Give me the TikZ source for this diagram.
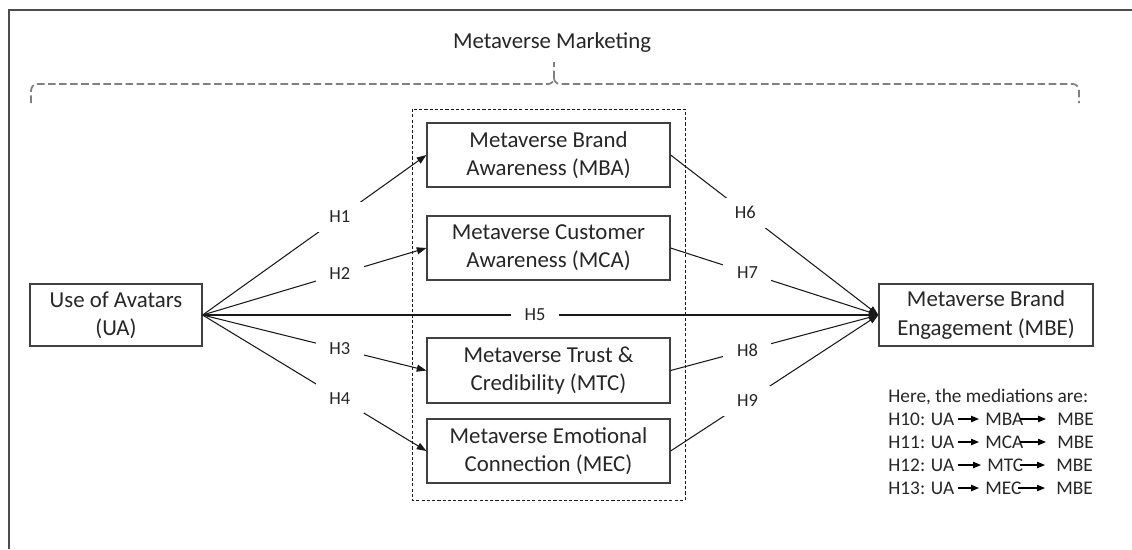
\documentclass[tikz,border=0pt]{standalone}
\usepackage{fontspec}
\setmainfont{Carlito}
\usetikzlibrary{arrows.meta,calc}
\begin{document}
\begin{tikzpicture}[x=0.02cm,y=-0.02cm,
  box/.style={draw=black!75,line width=0.7pt,inner sep=0pt,font=\fontsize{13pt}{16pt}\selectfont,align=center,text=black!85},
  link/.style={draw=black!90,line width=0.6pt},
  arr/.style={link,-{Triangle[length=5.5pt,width=4pt]}},
  hlab/.style={fill=white,inner sep=0pt,minimum width=0.96cm,minimum height=0.6cm,font=\fontsize{10.5pt}{12pt}\selectfont,text=black!85},
  med/.style={font=\fontsize{11pt}{13pt}\selectfont,anchor=west,inner sep=0pt,text=black!85},
  medarr/.style={line width=0.6pt,draw=black,-{Triangle[length=4.5pt,width=3.6pt]}},
  brace/.style={draw=black!50,line width=1pt,dash pattern=on 4.3pt off 2pt},
  groupbox/.style={draw=black!90,line width=0.5pt,dash pattern=on 1.8pt off 1.2pt}]
\useasboundingbox (0,0) rectangle (1132,549);
% frame
\draw[black!70,line width=0.9pt] (9,549) -- (9,10) -- (1132,10);
% title and brace
\node[font=\fontsize{13pt}{16pt}\selectfont,text=black!85] (title) at (552,43) {Metaverse Marketing};
\draw[brace] (31,103) -- (31,91) to[out=90,in=180] (37,84) -- (548,84) to[out=0,in=-90] (554,78) -- (554,62);
\draw[brace] (554,78) to[out=-90,in=180] (560,84) -- (1073,84) to[out=0,in=90] (1079,91) -- (1079,103);
% mediator group
\draw[groupbox] (412,109) rectangle (685,500);
% boxes
\node[box,minimum width=3.44cm,minimum height=1.24cm] (ua) at (116,315) {Use of Avatars\\(UA)};
\node[box,minimum width=4.28cm,minimum height=1.24cm] (mbe) at (986,315) {Metaverse Brand\\Engagement (MBE)};
\node[box,minimum width=4.86cm,minimum height=1.28cm] (mba) at (548.5,155) {Metaverse Brand\\Awareness (MBA)};
\node[box,minimum width=4.86cm,minimum height=1.28cm] (mca) at (548.5,248) {Metaverse Customer\\Awareness (MCA)};
\node[box,minimum width=4.86cm,minimum height=1.30cm] (mtc) at (548.5,370.5) {Metaverse Trust \&\\Credibility (MTC)};
\node[box,minimum width=4.86cm,minimum height=1.28cm] (mec) at (548.5,451) {Metaverse Emotional\\Connection (MEC)};
% connectors
\draw[arr] (ua.east) -- node[hlab,pos=0.613] {H1} (mba.west);
\draw[arr] (ua.east) -- node[hlab,pos=0.613] {H2} (mca.west);
\draw[arr] (ua.east) -- node[hlab,pos=0.613] {H3} (mtc.west);
\draw[arr] (ua.east) -- node[hlab,pos=0.613] {H4} (mec.west);
\draw[arr] (ua.east) -- node[hlab,pos=0.492] {H5} (mbe.west);
\draw[arr] (mba.east) -- node[hlab,pos=0.36] {H6} (mbe.west);
\draw[arr] (mca.east) -- node[hlab,pos=0.37] {H7} (mbe.west);
\draw[arr] (mtc.east) -- node[hlab,pos=0.37] {H8} (mbe.west);
\draw[arr] (mec.east) -- node[hlab,pos=0.37] {H9} (mbe.west);
% mediations
\node[med] (here) at (888,397) {Here, the mediations are:};
\node[med] (r1a) at (888,419) {H10: UA};
\node[med] (r1b) at (985,419) {MBA};
\node[med] (r1c) at (1057,419) {MBE};
\node[med] (r2a) at (888,442) {H11: UA};
\node[med] (r2b) at (985,442) {MCA};
\node[med] (r2c) at (1057,442) {MBE};
\node[med] (r3a) at (888,465) {H12: UA};
\node[med] (r3b) at (987,465) {MTC};
\node[med] (r3c) at (1056,465) {MBE};
\node[med] (r4a) at (888,488) {H13: UA};
\node[med] (r4b) at (985,488) {MEC};
\node[med] (r4c) at (1056,488) {MBE};
\foreach \r in {r1,r2,r3,r4}{
  \draw[medarr] ($(\r a.east)+(3,0)$) -- ($(\r b.west)+(-6,0)$);
  \draw[medarr] ($(\r b.east)+(-4,0)$) -- ($(\r c.west)+(-11,0)$);
}
\end{tikzpicture}
\end{document}
